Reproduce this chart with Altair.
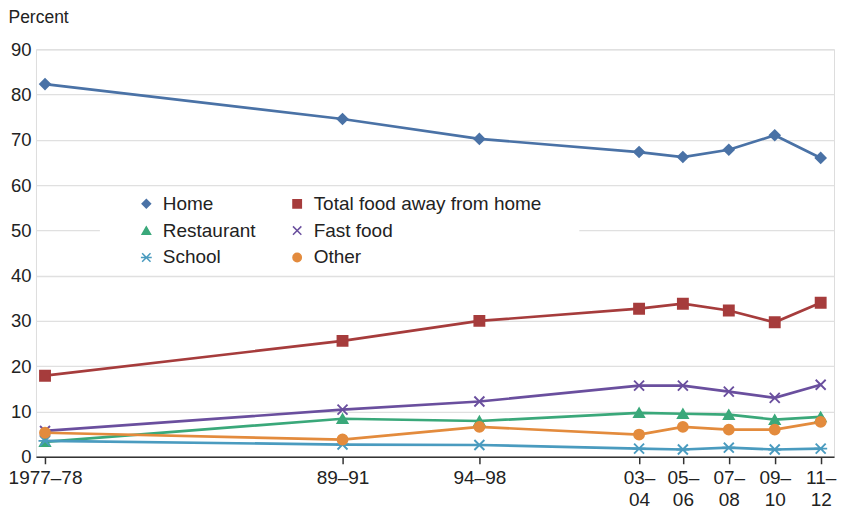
import altair as alt
import pandas as pd

periods = ["1977–78", "89–91", "94–98", "03–04", "05–06", "07–08", "09–10", "11–12"]
axis_pos = [1977.5, 1990.0, 1995.75, 2002.46, 2004.30, 2006.23, 2008.16, 2010.09]

# order arranged so the two-column legend reads row by row like the original
series_names = ["Home", "Restaurant", "School", "Total food away from home", "Fast food", "Other"]
home = [82.3, 74.6, 70.2, 67.3, 66.2, 67.8, 71.0, 66.0]
restaurant = [3.3, 8.4, 7.9, 9.7, 9.5, 9.3, 8.2, 8.8]
school = [3.5, 2.7, 2.6, 1.8, 1.6, 2.0, 1.6, 1.8]
total_away = [17.9, 25.6, 30.0, 32.7, 33.8, 32.3, 29.7, 34.0]
fast_food = [5.7, 10.4, 12.2, 15.7, 15.7, 14.4, 13.0, 15.9]
other = [5.3, 3.8, 6.6, 4.9, 6.6, 6.0, 6.0, 7.7]

colors = ["#4a72a6", "#3aa87a", "#4a9bbf", "#a63c3c", "#6a4f9e", "#e38b3d"]
shapes = [
    "diamond",
    "triangle-up",
    "M-1,-1L1,1M-1,1L1,-1M-1.3,0L1.3,0",
    "square",
    "M-1,-1L1,1M-1,1L1,-1",
    "circle",
]

rows = []
for name, vals in zip(series_names, [home, restaurant, school, total_away, fast_food, other]):
    for p, x, v in zip(periods, axis_pos, vals):
        rows.append({"series": name, "period": p, "pos": x, "value": v})
df = pd.DataFrame(rows)

label_map = {
    1977.5: "'1977–78'",
    1990.0: "'89–91'",
    1995.75: "'94–98'",
    2002.46: "['03–','04']",
    2004.30: "['05–','06']",
    2006.23: "['07–','08']",
    2008.16: "['09–','10']",
    2010.09: "['11–','12']",
}
expr = "''"
for k, v in reversed(list(label_map.items())):
    expr = f"abs(datum.value - {k}) < 0.01 ? {v} : ({expr})"

font = "Liberation Sans"

x_enc = alt.X(
    "pos:Q",
    scale=alt.Scale(domain=[1977.12, 2010.65], nice=False, zero=False),
    axis=alt.Axis(
        values=axis_pos,
        labelExpr=expr,
        title=None,
        grid=False,
        domain=True,
        domainColor="#333333",
        domainWidth=1.5,
        ticks=True,
        tickColor="#333333",
        tickSize=7,
        tickWidth=1.5,
        labelFontSize=19,
        labelColor="#222222",
        labelFont=font,
        labelPadding=5,
        labelLineHeight=22,
        labelBaseline="top",
        labelFlush=False,
        labelOverlap=False,
    ),
)
y_enc = alt.Y(
    "value:Q",
    scale=alt.Scale(domain=[0, 90], nice=False),
    axis=alt.Axis(
        values=[0, 10, 20, 30, 40, 50, 60, 70, 80, 90],
        title="Percent",
        titleAngle=0,
        titleAlign="left",
        titleBaseline="alphabetic",
        titleX=-28,
        titleY=-27,
        titleFontSize=17.5,
        titleFontWeight="normal",
        titleFont=font,
        titleColor="#222222",
        grid=True,
        gridColor="#e0e0e0",
        gridWidth=1.3,
        domain=False,
        ticks=False,
        labelFontSize=18.5,
        labelColor="#222222",
        labelFont=font,
        labelPadding=5,
    ),
)

color_scale = alt.Scale(domain=series_names, range=colors)
shape_scale = alt.Scale(domain=series_names, range=shapes)

legend_spec = alt.Legend(
    title=None,
    orient="none",
    legendX=101,
    legendY=145,
    columns=2,
    columnPadding=32,
    rowPadding=7,
    padding=0,
    labelFontSize=19,
    labelFont=font,
    labelColor="#222222",
    labelOffset=7,
    labelLimit=0,
    symbolSize=70,
    symbolStrokeWidth=1.5,
    symbolOpacity=1,
)

lines = alt.Chart(df).mark_line(strokeWidth=2.7).encode(
    x=x_enc,
    y=y_enc,
    color=alt.Color("series:N", scale=color_scale, sort=series_names, legend=legend_spec),
    detail="series:N",
)

points = alt.Chart(df).mark_point(filled=True, size=100, strokeWidth=1.9, opacity=1).encode(
    x=x_enc,
    y=y_enc,
    color=alt.Color("series:N", scale=color_scale, sort=series_names, legend=legend_spec),
    shape=alt.Shape("series:N", scale=shape_scale, sort=series_names, legend=legend_spec),
    stroke=alt.Stroke("series:N", scale=color_scale, sort=series_names, legend=legend_spec),
)

legend_bg = alt.Chart(pd.DataFrame({"a": [0]})).mark_rect(fill="white").encode(
    x=alt.value(64), x2=alt.value(544), y=alt.value(142), y2=alt.value(221)
)

chart = (
    alt.layer(legend_bg, lines, points)
    .properties(width=799, height=408, padding={"left": 0, "top": 0, "right": 5, "bottom": 0})
    .configure_view(stroke=None)
    .configure(font=font)
)

chart.save("out.html", embed_options={"renderer": "svg", "actions": False})
